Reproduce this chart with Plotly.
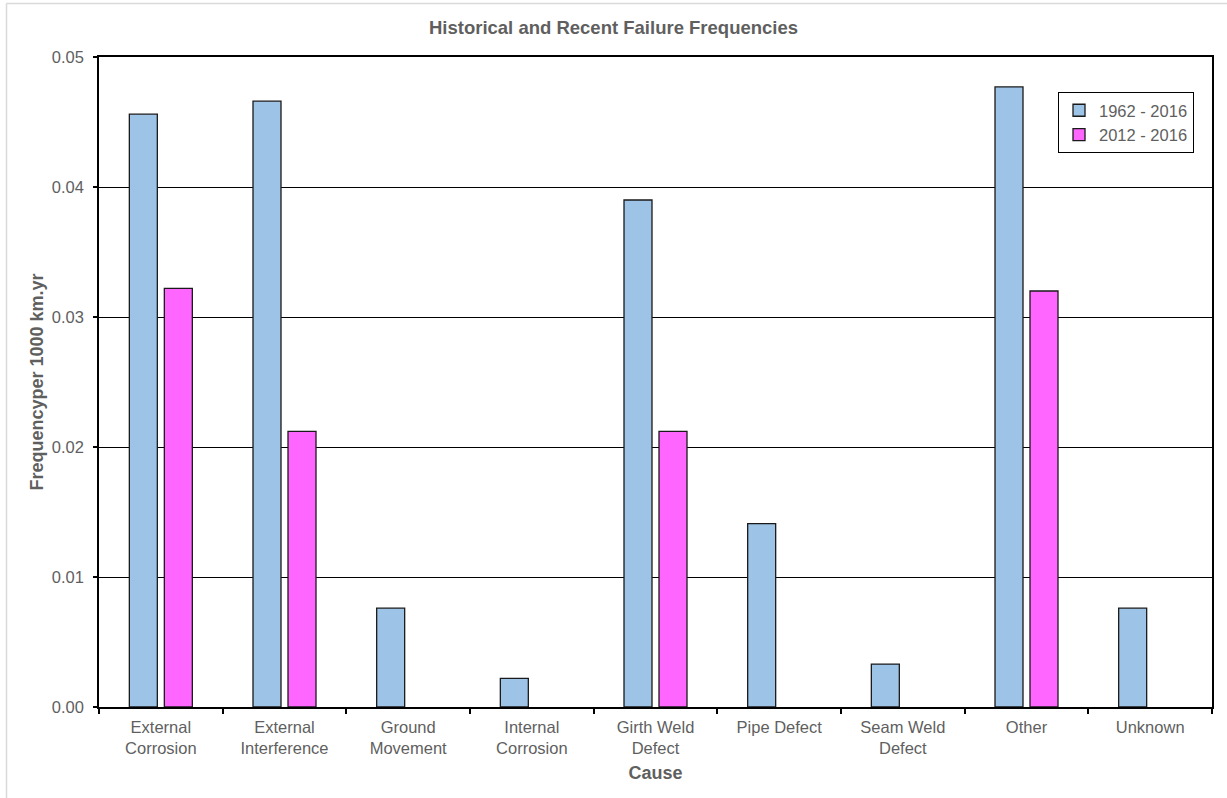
import plotly.graph_objects as go

# Failure causes (tick labels wrap onto two lines like the printed report)
causes = ["External Corrosion", "External Interference", "Ground Movement",
          "Internal Corrosion", "Girth Weld Defect", "Pipe Defect",
          "Seam Weld Defect", "Other", "Unknown"]
cause_labels = ["External<br>Corrosion", "External<br>Interference", "Ground<br>Movement",
                "Internal<br>Corrosion", "Girth Weld<br>Defect", "Pipe Defect",
                "Seam Weld<br>Defect", "Other", "Unknown"]

# Failure frequency per 1000 km.yr
freq_1962_2016 = [0.0456, 0.0466, 0.0076, 0.0022, 0.0390, 0.0141, 0.0033, 0.0477, 0.0076]
freq_2012_2016 = [0.0322, 0.0212, None, None, 0.0212, None, None, 0.0320, None]

FONT = "Liberation Sans, Arial, sans-serif"
TXT = "#5f5f5f"

W, H = 1227, 798
ML, MR, MT, MB = 99, 15, 57, 91
PW, PH = W - ML - MR, H - MT - MB

fig = go.Figure()
fig.add_trace(go.Bar(name="1962 - 2016", x=causes, y=freq_1962_2016,
                     marker=dict(color="#9DC3E6", line=dict(color="#1a1a1a", width=1.3))))
fig.add_trace(go.Bar(name="2012 - 2016", x=causes, y=freq_2012_2016,
                     marker=dict(color="#FF66FF", line=dict(color="#1a1a1a", width=1.3))))

# light frame around the whole chart (left and top edges are visible)
fig.add_shape(type="line", xref="paper", yref="paper",
              x0=(6.5 - ML) / PW, x1=(W + 5 - ML) / PW,
              y0=1 + (MT - 3.5) / PH, y1=1 + (MT - 3.5) / PH,
              line=dict(color="#d9d9d9", width=1.5))
fig.add_shape(type="line", xref="paper", yref="paper",
              x0=(6.5 - ML) / PW, x1=(6.5 - ML) / PW,
              y0=1 + (MT - 3.5) / PH, y1=-(MB + 5) / PH,
              line=dict(color="#d9d9d9", width=1.5))

fig.update_layout(
    width=W, height=H,
    margin=dict(l=ML, r=MR, t=MT, b=MB),
    paper_bgcolor="white", plot_bgcolor="white",
    barmode="group", bargap=0.434, bargroupgap=0.2,
    font=dict(family=FONT, size=16, color=TXT),
    title=dict(text="<b>Historical and Recent Failure Frequencies</b>",
               x=0.5, xref="container", y=1 - 28 / H, yref="container",
               xanchor="center", yanchor="middle",
               font=dict(family=FONT, size=18.5, color=TXT)),
    legend=dict(x=(1058 - ML) / PW, y=1 - (92 - MT) / PH, xanchor="left", yanchor="top",
                bgcolor="white", bordercolor="#000000", borderwidth=1,
                font=dict(family=FONT, size=16.5, color=TXT),
                itemwidth=30, tracegroupgap=0),
    showlegend=True,
)

fig.update_xaxes(
    tickmode="array", tickvals=causes, ticktext=cause_labels,
    showline=True, linecolor="#000000", linewidth=1.5, mirror=True,
    ticks="outside", tickson="boundaries", ticklen=5, tickcolor="#000000", tickwidth=1.5,
    showgrid=False,
    ticklabelstandoff=4,
    tickfont=dict(family=FONT, size=16.5, color=TXT),
    title=dict(text="<b>Cause</b>", standoff=10,
               font=dict(family=FONT, size=18, color=TXT)),
)
fig.update_yaxes(
    range=[0, 0.05], dtick=0.01, tickformat=".2f",
    showline=True, linecolor="#000000", linewidth=1.5, mirror=True,
    ticks="outside", ticklen=4, tickcolor="#000000", tickwidth=1.5,
    showgrid=True, gridcolor="#000000", gridwidth=1,
    zeroline=False,
    ticklabelstandoff=6,
    tickfont=dict(family=FONT, size=16.5, color=TXT),
    title=dict(text="<b>Frequencyper 1000 km.yr</b>", standoff=4,
               font=dict(family=FONT, size=18, color=TXT)),
)

fig.write_html("out.html")
